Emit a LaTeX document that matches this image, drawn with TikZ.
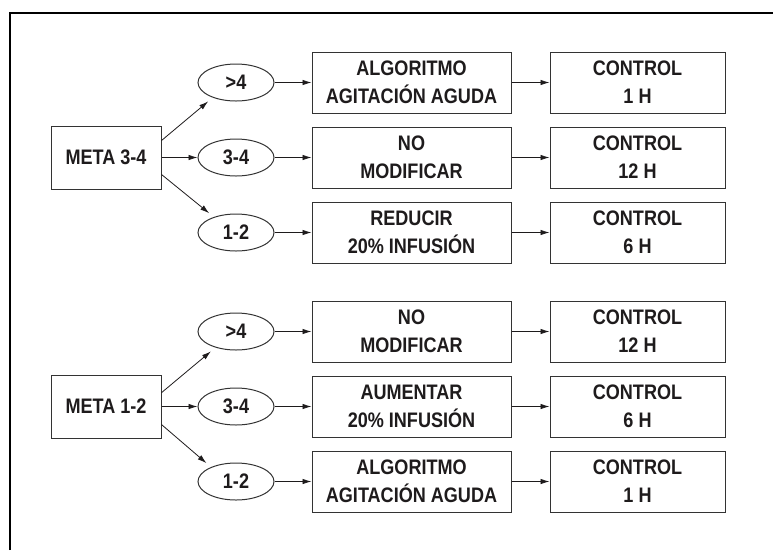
\documentclass[tikz,border=0pt]{standalone}
\usepackage{fontspec}
\newfontfamily\narrowsf{Liberation Sans}[FakeStretch=0.86]
\usetikzlibrary{arrows.meta,positioning,shapes.geometric}
\definecolor{ink}{HTML}{1E1B1C}
\definecolor{edge}{HTML}{333333}

\begin{document}
\begin{tikzpicture}[
  x=1pt, y=1pt,
  font=\narrowsf\bfseries\fontsize{21}{28}\selectfont,
  >={Latex[length=9pt,width=5.5pt]},
  flow/.style={->, draw=ink, line width=.8pt},
  meta/.style={draw=edge, line width=1pt, text=ink, inner sep=0pt,
               minimum width=110pt, minimum height=63pt},
  rango/.style={ellipse, draw=edge, line width=1pt, text=ink, inner sep=0pt,
                minimum width=76pt, minimum height=37pt},
  accion/.style={draw=edge, line width=1pt, text=ink, inner sep=0pt, align=center,
                 minimum width=199pt, minimum height=61pt},
  control/.style={draw=edge, line width=1pt, text=ink, inner sep=0pt, align=center,
                  minimum width=175pt, minimum height=61pt},
  rama/.style={flow, shorten >=6pt}
]
\useasboundingbox (0,0) rectangle (773,-550);

% Marco (solo se ven el borde superior e izquierdo).
\draw[black, line width=2pt] (10,-550) -- (10,-13) -- (773,-13);

% Meta 3-4.
\node[meta] (metaA) at (106,-157.5) {META 3-4};
\node[rango, right=36pt of metaA, yshift=75pt] (aAlto) {>4};
\node[rango, right=36pt of metaA] (aMedio) {3-4};
\node[rango, right=36pt of metaA, yshift=-75pt] (aBajo) {1-2};

\node[accion, right=37pt of aAlto] (accAalto) {ALGORITMO\\AGITACIÓN AGUDA};
\node[accion, right=37pt of aMedio] (accAmedio) {NO\\MODIFICAR};
\node[accion, right=37pt of aBajo] (accAbajo) {REDUCIR\\20\% INFUSIÓN};

\node[control, right=38pt of accAalto] (ctlAalto) {CONTROL\\1 H};
\node[control, right=38pt of accAmedio] (ctlAmedio) {CONTROL\\12 H};
\node[control, right=38pt of accAbajo] (ctlAbajo) {CONTROL\\6 H};

\draw[rama] (metaA.17) -- (aAlto.213);
\draw[flow] (metaA.east) -- (aMedio.west);
\draw[rama] (metaA.-17) -- (aBajo.145);

% Meta 1-2.
\node[meta] (metaB) at (106,-406.5) {META 1-2};
\node[rango, right=36pt of metaB, yshift=75pt] (bAlto) {>4};
\node[rango, right=36pt of metaB] (bMedio) {3-4};
\node[rango, right=36pt of metaB, yshift=-75pt] (bBajo) {1-2};

\node[accion, right=37pt of bAlto] (accBalto) {NO\\MODIFICAR};
\node[accion, right=37pt of bMedio] (accBmedio) {AUMENTAR\\20\% INFUSIÓN};
\node[accion, right=37pt of bBajo] (accBbajo) {ALGORITMO\\AGITACIÓN AGUDA};

\node[control, right=38pt of accBalto] (ctlBalto) {CONTROL\\12 H};
\node[control, right=38pt of accBmedio] (ctlBmedio) {CONTROL\\6 H};
\node[control, right=38pt of accBbajo] (ctlBbajo) {CONTROL\\1 H};

\draw[rama] (metaB.14) -- (bAlto.218);
\draw[flow] (metaB.east) -- (bMedio.west);
\draw[rama] (metaB.-18) -- (bBajo.150);

% Flechas rango -> acción -> control.
\foreach \e/\a/\c in {aAlto/accAalto/ctlAalto, aMedio/accAmedio/ctlAmedio,
                      aBajo/accAbajo/ctlAbajo, bAlto/accBalto/ctlBalto,
                      bMedio/accBmedio/ctlBmedio, bBajo/accBbajo/ctlBbajo}{
  \draw[flow] (\e.east) -- (\a.west);
  \draw[flow] (\a.east) -- (\c.west);
}
\end{tikzpicture}
\end{document}
